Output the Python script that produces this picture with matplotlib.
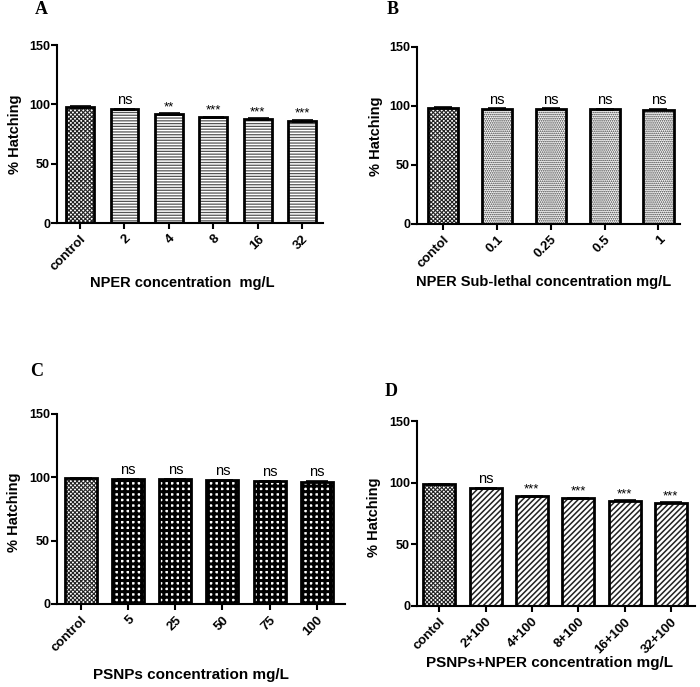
import matplotlib
matplotlib.use("Agg")
from matplotlib import pyplot as plt

plt.rcParams["font.family"] = ["Liberation Sans", "DejaVu Sans"]

# data
labels_a = ["control", "2", "4", "8", "16", "32"]
hatching_a = [97.8, 95.8, 91.9, 89.0, 87.6, 86.2]
err_a = [0.6, 0.6, 0.6, 0.6, 0.7, 0.7]
sig_a = ["", "ns", "**", "***", "***", "***"]

labels_b = ["contol", "0.1", "0.25", "0.5", "1"]
hatching_b = [98.7, 97.5, 97.5, 97.4, 97.0]
err_b = [0.4, 0.4, 0.4, 0.4, 0.4]
sig_b = ["", "ns", "ns", "ns", "ns"]

labels_c = ["control", "5", "25", "50", "75", "100"]
hatching_c = [99.2, 98.4, 98.4, 97.6, 97.1, 96.6]
err_c = [0.4, 0.4, 0.4, 0.4, 0.4, 0.4]
sig_c = ["", "ns", "ns", "ns", "ns", "ns"]

labels_d = ["contol", "2+100", "4+100", "8+100", "16+100", "32+100"]
hatching_d = [98.8, 95.3, 89.0, 87.2, 85.3, 83.7]
err_d = [0.4, 0.5, 0.5, 0.5, 0.5, 0.5]
sig_d = ["", "ns", "***", "***", "***", "***"]

W, H = 700, 687
fig = plt.figure(figsize=(7.0, 6.87), dpi=100)


def px_axes(x0, x1, ytop, ybot):
    return fig.add_axes([x0 / W, 1 - ybot / H, (x1 - x0) / W, (ybot - ytop) / H])


def hatched_bars(ax, x, heights, width, hatch, hcolor, hlw):
    bars = ax.bar(x, heights, width, color="white", edgecolor=hcolor, linewidth=0, hatch=hatch, zorder=2)
    for b in bars:
        if hasattr(b, "set_hatch_linewidth"):
            b.set_hatch_linewidth(hlw)
    return bars


def panel(ax, labels, values, errs, sigs, width, xlim, hatch, hcolor, hlw):
    x = list(range(len(labels)))
    hatched_bars(ax, x[:1], values[:1], width, "xxxxxxxx", "#222222", 0.8)
    hatched_bars(ax, x[1:], values[1:], width, hatch, hcolor, hlw)
    ax.bar(x, values, width, color="none", edgecolor="black", linewidth=2.0, zorder=3)
    ax.errorbar(x, values, yerr=errs, fmt="none", ecolor="black", elinewidth=1.2,
                capsize=width * 12, capthick=1.2, zorder=4)
    for xi, v, e, s in zip(x, values, errs, sigs):
        if s == "ns":
            ax.text(xi, v + e + 1.5, s, ha="center", va="bottom", fontsize=10.5)
        elif s:
            ax.text(xi, v + e, s, ha="center", va="bottom", fontsize=9.5)
    ax.set_xlim(*xlim)
    ax.set_ylim(0, 150)
    ax.set_yticks([0, 50, 100, 150])
    ax.set_xticks(x)
    ax.set_xticklabels(labels, rotation=45, ha="right", rotation_mode="anchor",
                       fontsize=9.5, fontweight="bold")
    for t in ax.get_yticklabels():
        t.set_fontweight("bold")
        t.set_fontsize(9)
    ax.spines["top"].set_visible(False)
    ax.spines["right"].set_visible(False)
    ax.spines["left"].set_linewidth(1.5)
    ax.spines["bottom"].set_linewidth(1.5)
    ax.tick_params(direction="out", length=4, width=1.5, pad=1)
    ax.tick_params(axis="x", pad=3)
    ax.set_facecolor("none")


ax_a = px_axes(57, 323, 45, 223)
panel(ax_a, labels_a, hatching_a, err_a, sig_a, 0.63, (-0.52, 5.47), "------", "#555555", 0.9)

ax_b = px_axes(417, 680, 47, 224)
panel(ax_b, labels_b, hatching_b, err_b, sig_b, 0.56, (-0.49, 4.4), "........", "#333333", 0.8)

ax_c = px_axes(57, 345, 414, 604)
panel(ax_c, labels_c, hatching_c, err_c, sig_c, 0.68, (-0.51, 5.6), "+++", "black", 2.2)

ax_d = px_axes(417, 695, 421, 606)
panel(ax_d, labels_d, hatching_d, err_d, sig_d, 0.69, (-0.48, 5.52), "//////", "#222222", 1.1)

# axis titles
ylab = dict(rotation=90, ha="center", va="center", fontsize=10.5, fontweight="bold")
fig.text(15 / W, 1 - 134 / H, "% Hatching", **ylab)
fig.text(376 / W, 1 - 136 / H, "% Hatching", **ylab)
fig.text(14 / W, 1 - 512 / H, "% Hatching", **ylab)
fig.text(374 / W, 1 - 517 / H, "% Hatching", **ylab)

xlab = dict(ha="center", va="center", fontweight="bold")
fig.text(182 / W, 1 - 283 / H, "NPER concentration  mg/L", fontsize=10.5, **xlab)
fig.text(544 / W, 1 - 282 / H, "NPER Sub-lethal concentration mg/L", fontsize=10.5, **xlab)
fig.text(191 / W, 1 - 675 / H, "PSNPs concentration mg/L", fontsize=11, **xlab)
fig.text(549 / W, 1 - 663 / H, "PSNPs+NPER concentration mg/L", fontsize=11, **xlab)

# panel letters
for letter, lx, ly in [("A", 41, 10), ("B", 393, 10), ("C", 37, 371), ("D", 391, 392)]:
    fig.text(lx / W, 1 - ly / H, letter, ha="center", va="center", fontsize=13,
             fontweight="bold", family=["Liberation Serif", "DejaVu Serif"])

fig.savefig("out.png", dpi=100)
